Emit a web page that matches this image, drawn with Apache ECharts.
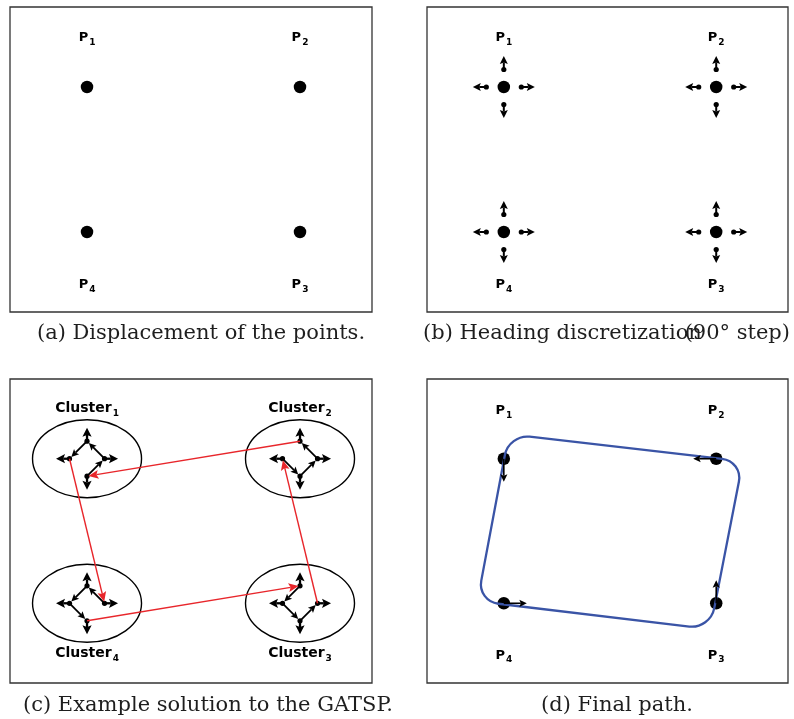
<!DOCTYPE html>
<html>
<head>
<meta charset="utf-8">
<script src="https://cdn.jsdelivr.net/npm/echarts@6/dist/echarts.min.js"></script>
<style>
  html, body { margin: 0; padding: 0; background: #fff; }
  #chart { width: 794px; height: 719px; }
</style>
</head>
<body>
<div id="chart"></div>
<script>
// Waypoints P1..P4 (field units, y up)
const pointNames = ['P1', 'P2', 'P3', 'P4'];
const clusterNames = ['Cluster1', 'Cluster2', 'Cluster3', 'Cluster4'];
const pointX = [1, 4, 4, 1];
const pointY = [3, 3, 1, 1];

// Discretized headings (degrees)
const headings = [0, 90, 180, 270];

// GATSP tour: visiting order and the heading selected at each point
const tourOrder = [0, 3, 2, 1];
const entryHeading = [270, 180, 90, 0];

// Corners of the final closed path (rounded by the turning radius)
const pathCornerX = [1.07, 4.377, 3.915, 0.627];
const pathCornerY = [3.338, 2.966, 0.644, 1.028];

const captions = [
  '(a) Displacement of the points.',
  '(b) Heading discretization',
  '(90° step)',
  '(c) Example solution to the GATSP.',
  '(d) Final path.'
];

// Field extent shown in every panel
const X_MIN = -0.085, X_MAX = 5.014;
const Y_MIN = -0.103, Y_MAX = 4.103;

const panels = [
  { left: 10, top: 7, width: 362, height: 305 },
  { left: 427, top: 7, width: 361, height: 305 },
  { left: 10, top: 379, width: 362, height: 304 },
  { left: 427, top: 379, width: 361, height: 304 }
];

const chart = echarts.init(document.getElementById('chart'), null, { renderer: 'canvas' });

function dirOf(deg) {
  const r = deg * Math.PI / 180;
  return [Math.cos(r), -Math.sin(r)];
}

// Shaft plus a slightly notched arrow head ending at (x2, y2)
function arrow(x1, y1, x2, y2, o) {
  const dx = x2 - x1, dy = y2 - y1, L = Math.hypot(dx, dy) || 1;
  const ux = dx / L, uy = dy / L, nx = -uy, ny = ux;
  const bx = x2 - ux * o.head, by = y2 - uy * o.head;
  const mx = x2 - ux * o.head * 0.8, my = y2 - uy * o.head * 0.8;
  return [
    { type: 'line', shape: { x1: x1, y1: y1, x2: mx, y2: my },
      style: { stroke: o.color, lineWidth: o.lw } },
    { type: 'polygon',
      shape: { points: [[x2, y2], [bx + nx * o.half, by + ny * o.half], [mx, my], [bx - nx * o.half, by - ny * o.half]] },
      style: { fill: o.color } }
  ];
}

const NODE_OFF = 17.5;   // distance of a heading node from its point (px)
const TIP_OFF = 31;      // heading arrow tip distance (px)

function labelItem(i, names, up, down) {
  return {
    value: [pointX[i], pointY[i]],
    name: names[i],
    label: { offset: [0, pointY[i] > 2 ? up : down] }
  };
}

// Name with its trailing index typeset as a subscript
function subLabel(size, subSize, drop) {
  return {
    show: true, position: 'inside',
    formatter: p => '{m|' + p.name.slice(0, -1) + '}{s|' + p.name.slice(-1) + '}',
    rich: {
      m: { color: '#000', fontFamily: 'DejaVu Sans', fontWeight: 'bold', fontSize: size, lineHeight: size + 3 },
      s: { color: '#000', fontFamily: 'DejaVu Sans', fontWeight: 'bold', fontSize: subSize,
           lineHeight: subSize + 1, padding: [drop * 2, 0, 0, 1] }
    }
  };
}
const pLabel = subLabel(13, 9, 4.5);
const cLabel = subLabel(14, 9, 5);
const dotStyle = { color: '#000', opacity: 1 };

const series = [];

// (a) points
series.push({
  type: 'scatter', xAxisIndex: 0, yAxisIndex: 0,
  symbolSize: 12.5, itemStyle: dotStyle,
  label: pLabel,
  data: pointX.map((_, i) => labelItem(i, pointNames, -49, 53))
});

// (b) points with heading arrows
series.push({
  type: 'scatter', xAxisIndex: 1, yAxisIndex: 1,
  symbolSize: 12.5, itemStyle: dotStyle,
  label: pLabel,
  data: pointX.map((_, i) => labelItem(i, pointNames, -49, 53))
});
const headingData = [];
pointX.forEach((x, i) => headings.forEach(h => headingData.push([x, pointY[i], h])));
series.push({
  type: 'custom', xAxisIndex: 1, yAxisIndex: 1, z: 3,
  data: headingData,
  renderItem: function (params, api) {
    const c = api.coord([api.value(0), api.value(1)]);
    const u = dirOf(api.value(2));
    const d = [c[0] + u[0] * NODE_OFF, c[1] + u[1] * NODE_OFF];
    const t = [c[0] + u[0] * TIP_OFF, c[1] + u[1] * TIP_OFF];
    return {
      type: 'group',
      children: [{ type: 'circle', shape: { cx: d[0], cy: d[1], r: 2.6 }, style: { fill: '#000' } }]
        .concat(arrow(d[0], d[1], t[0], t[1], { head: 8, half: 4, lw: 2, color: '#000' }))
    };
  }
});

// (c) clusters of heading nodes
series.push({
  type: 'custom', xAxisIndex: 2, yAxisIndex: 2, z: 3,
  data: pointX.map((x, i) => [x, pointY[i], entryHeading[i]]),
  renderItem: function (params, api) {
    const c = api.coord([api.value(0), api.value(1)]);
    const entry = api.value(2);
    const node = h => { const u = dirOf(h); return [c[0] + u[0] * NODE_OFF, c[1] + u[1] * NODE_OFF]; };
    let kids = [{ type: 'ellipse', shape: { cx: c[0], cy: c[1], rx: 54.5, ry: 39 },
                  style: { fill: 'none', stroke: '#000', lineWidth: 1.4 } }];
    headings.forEach(h => {
      const u = dirOf(h), n = node(h);
      kids = kids.concat(arrow(n[0], n[1], c[0] + u[0] * TIP_OFF, c[1] + u[1] * TIP_OFF,
        { head: 9, half: 4.6, lw: 2.3, color: '#000' }));
    });
    for (let k = 0; k < 3; k++) {
      const a = node(entry + 90 * k), b = node(entry + 90 * (k + 1));
      const dx = b[0] - a[0], dy = b[1] - a[1], L = Math.hypot(dx, dy);
      kids = kids.concat(arrow(a[0], a[1], b[0] - dx / L * 2.5, b[1] - dy / L * 2.5,
        { head: 7.5, half: 3.6, lw: 1.8, color: '#000' }));
    }
    headings.forEach(h => {
      const n = node(h);
      kids.push({ type: 'circle', shape: { cx: n[0], cy: n[1], r: 2.6 }, style: { fill: '#000' } });
    });
    return { type: 'group', children: kids };
  }
});
// (c) tour legs between clusters: exit node of one cluster to entry node of the next
const legData = tourOrder.map((from, k) => {
  const to = tourOrder[(k + 1) % tourOrder.length];
  return [pointX[from], pointY[from], pointX[to], pointY[to], entryHeading[from] - 90, entryHeading[to]];
});
series.push({
  type: 'custom', xAxisIndex: 2, yAxisIndex: 2, z: 4,
  encode: { x: [0, 2], y: [1, 3] },
  data: legData,
  renderItem: function (params, api) {
    const a = api.coord([api.value(0), api.value(1)]);
    const b = api.coord([api.value(2), api.value(3)]);
    const ua = dirOf(api.value(4)), ub = dirOf(api.value(5));
    const p = [a[0] + ua[0] * NODE_OFF, a[1] + ua[1] * NODE_OFF];
    const q = [b[0] + ub[0] * NODE_OFF, b[1] + ub[1] * NODE_OFF];
    const dx = q[0] - p[0], dy = q[1] - p[1], L = Math.hypot(dx, dy);
    return { type: 'group',
      children: arrow(p[0], p[1], q[0] - dx / L * 1.5, q[1] - dy / L * 1.5,
        { head: 10, half: 4.4, lw: 1.4, color: '#e8262b' }) };
  }
});
series.push({
  type: 'scatter', xAxisIndex: 2, yAxisIndex: 2,
  symbolSize: 1, itemStyle: { color: 'rgba(0,0,0,0)', opacity: 1 },
  label: cLabel,
  data: pointX.map((_, i) => labelItem(i, clusterNames, -50, 50))
});

// (d) final path
series.push({
  type: 'scatter', xAxisIndex: 3, yAxisIndex: 3, z: 2,
  symbolSize: 12.5, itemStyle: dotStyle,
  label: pLabel,
  data: pointX.map((_, i) => labelItem(i, pointNames, -48, 52))
});
series.push({
  type: 'custom', xAxisIndex: 3, yAxisIndex: 3, z: 3,
  data: pathCornerX.map((x, i) => [x, pathCornerY[i]]),
  renderItem: function (params, api) {
    if (params.dataIndex !== 0) return null;
    const pts = pathCornerX.map((x, i) => api.coord([x, pathCornerY[i]]));
    const R = 21, K = 0.55, n = pts.length;
    const toward = (p, q, r) => {
      const dx = q[0] - p[0], dy = q[1] - p[1], L = Math.hypot(dx, dy);
      return [p[0] + dx / L * r, p[1] + dy / L * r];
    };
    let d = '';
    for (let i = 0; i < n; i++) {
      const c = pts[i], prev = pts[(i + n - 1) % n], next = pts[(i + 1) % n];
      const a = toward(c, prev, R), b = toward(c, next, R);
      const c1 = toward(c, prev, R * (1 - K)), c2 = toward(c, next, R * (1 - K));
      d += (i === 0 ? 'M' : 'L') + a[0].toFixed(2) + ' ' + a[1].toFixed(2) +
           ' C' + c1[0].toFixed(2) + ' ' + c1[1].toFixed(2) + ' ' + c2[0].toFixed(2) + ' ' +
           c2[1].toFixed(2) + ' ' + b[0].toFixed(2) + ' ' + b[1].toFixed(2) + ' ';
    }
    d += 'Z';
    return { type: 'path', shape: { pathData: d },
             style: { fill: 'none', stroke: '#3a54a6', lineWidth: 2.3 } };
  }
});
series.push({
  type: 'custom', xAxisIndex: 3, yAxisIndex: 3, z: 4,
  data: pointX.map((x, i) => [x, pointY[i], entryHeading[i]]),
  renderItem: function (params, api) {
    const c = api.coord([api.value(0), api.value(1)]);
    const u = dirOf(api.value(2));
    return { type: 'group',
      children: arrow(c[0], c[1], c[0] + u[0] * 23, c[1] + u[1] * 23,
        { head: 7.5, half: 3.6, lw: 1.6, color: '#000' }) };
  }
});

const capStyle = { fontSize: 21, fontFamily: 'DejaVu Serif', fill: '#1e1e1e', verticalAlign: 'middle' };
const graphic = [
  { type: 'text', x: 201, y: 334, style: Object.assign({ text: captions[0], align: 'center' }, capStyle) },
  { type: 'text', x: 423, y: 334, style: Object.assign({ text: captions[1], align: 'left' }, capStyle) },
  { type: 'text', x: 790, y: 334, style: Object.assign({ text: captions[2], align: 'right' }, capStyle) },
  { type: 'text', x: 208, y: 705.5, style: Object.assign({ text: captions[3], align: 'center' }, capStyle) },
  { type: 'text', x: 617, y: 705.5, style: Object.assign({ text: captions[4], align: 'center' }, capStyle) }
];

chart.setOption({
  animation: false,
  backgroundColor: '#fff',
  grid: panels.map(p => Object.assign({ show: true, borderColor: '#333', borderWidth: 1.3,
    backgroundColor: '#fff', containLabel: false }, p)),
  xAxis: panels.map((_, i) => ({ gridIndex: i, type: 'value', min: X_MIN, max: X_MAX, show: false })),
  yAxis: panels.map((_, i) => ({ gridIndex: i, type: 'value', min: Y_MIN, max: Y_MAX, show: false })),
  series: series,
  graphic: graphic
});
</script>
</body>
</html>
